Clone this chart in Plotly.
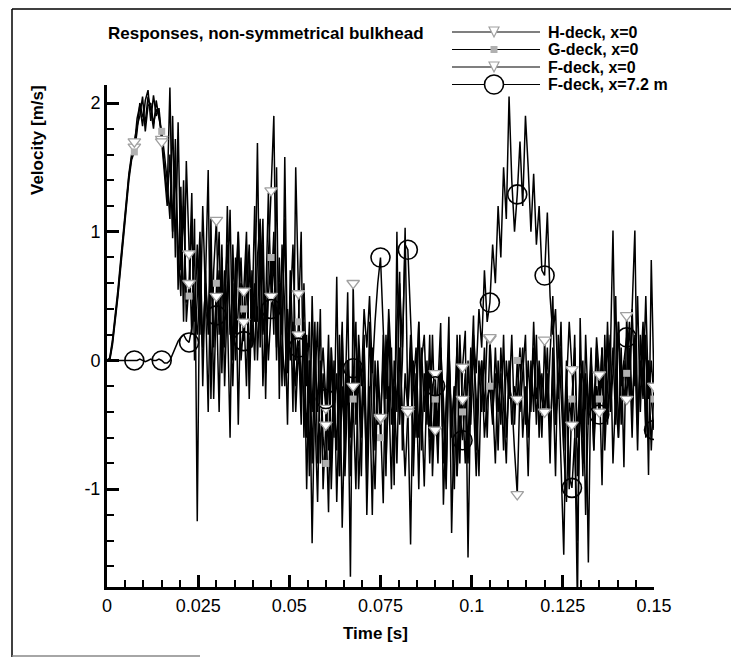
import plotly.graph_objects as go

# ---------------- data ----------------
time_step = 0.00075          # sampling step of the curves [s]
marker_every = 10            # a symbol is drawn every 10th sample (0.0075 s)

h_deck = [
    0, 0.02, 0.16, 0.34, 0.55, 0.78, 1.02, 1.25, 1.45, 1.6,
    1.66, 1.88, 1.98, 1.82, 2.02, 2.1, 1.86, 2.06, 1.9, 1.96,
    1.72, 1.5, 1.28, 2.12, 0.95, 1.72, 0.55, 1.35, 0.3, 1.55,
    0.83, 0.2, 1.1, -1.25, 0.9, 0.1, 0.6, 1.48, -0.3, 0.7,
    1.09, 0.2, 0.9, -0.2, 0.5, 1.17, 0.0, 0.8, -0.5, 0.6,
    0.54, 1.0, -0.1, 0.7, 0.3, 1.69, 0.1, 0.9, -0.3, 0.8,
    1.32, 1.9, 0.2, 0.6, -0.2, 1.58, 0.0, 0.5, -0.4, 1.5,
    0.52, -0.3, 0.3, -1.0, 0.0, -1.42, -0.2, 0.3, -0.8, -0.1,
    -0.37, -1.18, 0.1, -0.6, 0.65, -0.9, -0.2, -0.7, 0.0, -1.68,
    0.6, -0.5, -0.1, -0.9, 0.2, -1.2, -0.3, 0.1, -0.7, 0.0,
    -0.45, -1.11, 0.2, -0.4, 0.1, -0.97, 1.0, -0.5, 0.0, 1.03,
    -0.38, -1.43, 0.0, -0.6, 0.3, -0.3, -0.98, -0.1, -0.6, 0.2,
    -0.54, -0.2, 0.29, -1.12, -0.3, 0.34, -1.34, -0.4, 0.1, -0.8,
    -0.05, 0.23, -1.53, -0.2, 0.35, -0.7, 0.0, -0.4, 0.1, -0.6,
    0.17, -0.3, -0.8, 0.0, -0.5, 0.2, -0.6, -0.2, -0.3, -0.7,
    -1.04, -0.2, 0.1, -0.5, 0.0, -0.4, 0.3, -0.3, -0.1, -0.6,
    0.16, -0.4, 0.0, 0.5, -0.5, -0.1, -0.8, -1.51, -0.2, 0.3,
    -0.07, -0.5, -1.9, 0.33, -0.6, -0.2, -1.57, 0.0, -0.4, 0.18,
    -0.11, -0.97, 0.2, -0.5, 0.0, 1.01, -0.3, -0.6, 0.1, -0.83,
    0.35, -0.2, 0.4, 1.01, -0.5, 0.0, -0.3, 0.2, -0.89, 0.78,
    -0.2,
]

g_deck = [
    0, 0.0, 0.12, 0.3, 0.5, 0.72, 0.96, 1.2, 1.4, 1.56,
    1.62, 1.78, 2.0, 1.9, 1.85, 2.05, 1.95, 1.8, 2.02, 1.88,
    1.78, 1.6, 1.4, 1.1, 1.9, 0.8, 1.85, 0.7, 1.2, 0.45,
    0.5, 1.1, 0.3, 0.9, 0.2, 1.2, 0.5, -0.4, 0.8, 0.1,
    0.6, 1.0, -0.1, 0.7, 0.4, -0.6, 0.9, 0.2, 1.0, 0.3,
    0.4, -0.2, 0.8, 0.3, 1.2, 0.0, 0.6, 1.1, -0.1, 0.5,
    0.8, 0.2, 1.5, -0.3, 0.9, 0.4, -0.5, 0.7, 0.1, -0.2,
    0.3, 1.0, -0.6, 0.2, -0.9, 0.5, -0.4, -1.1, 0.0, -0.6,
    -0.8, 0.0, -1.0, -0.3, -0.7, 0.2, -1.3, -0.4, 0.53, -0.9,
    -0.3, -1.0, 0.1, -0.6, -0.2, -0.9, 0.3, -0.5, -1.0, -0.1,
    -0.6, 0.2, -0.8, -0.2, -1.0, 0.0, -0.4, 0.69, -0.7, -0.1,
    -0.4, 0.1, -0.9, -0.2, 0.3, -0.7, -0.1, -0.5, 0.2, -0.9,
    -0.3, -0.8, 0.0, -0.4, -1.0, 0.1, -0.5, -0.2, -0.9, 0.2,
    -0.4, -0.1, -0.7, 0.1, -0.3, -0.9, -0.2, 0.0, -0.6, -0.3,
    -0.2, -0.5, 0.1, -0.4, -0.1, -0.7, 0.0, -0.3, 0.2, -0.5,
    0.0, -0.4, -0.1, 0.2, -0.6, -0.2, 0.1, -0.5, 0.0, -0.3,
    -0.4, 0.1, -0.6, -0.1, -0.9, 0.2, -0.3, -0.7, 0.0, -1.0,
    -0.3, 0.1, -0.6, -0.1, -0.9, 0.2, -0.4, -0.1, -0.7, 0.1,
    -0.3, 0.1, -0.5, 0.3, -0.4, -0.1, 0.5, -0.6, 0.0, -0.3,
    -0.1, 0.3, -0.4, 0.1, -0.7, 0.2, -0.2, 0.5, -0.3, 0.0,
    -0.3,
]

f_deck = [
    0, 0.01, 0.14, 0.32, 0.52, 0.75, 0.99, 1.22, 1.43, 1.58,
    1.7, 1.82, 1.9, 2.05, 1.78, 1.98, 2.0, 1.84, 1.95, 1.92,
    1.7, 1.45, 1.2, 1.6, 1.0, 1.5, 0.9, 0.5, 1.4, 0.3,
    0.6, 1.3, 0.0, 0.5, 1.0, -0.2, 0.7, 0.2, 1.1, -0.3,
    0.5, -0.4, 0.8, 0.1, 1.2, 0.3, -0.2, 0.6, 1.0, 0.0,
    0.3, 0.9, -0.3, 0.5, 0.0, 0.8, 1.1, -0.2, 0.4, 1.3,
    0.5, 1.0, 0.0, 0.8, 0.2, 1.1, -0.1, 0.4, 0.9, 0.0,
    0.2, -0.5, 0.6, -0.2, 0.3, -0.8, 0.1, -0.4, 0.4, -1.0,
    -0.5, 0.2, -0.8, 0.0, -1.1, -0.3, 0.3, -0.9, -0.2, -0.6,
    -0.2, 0.3, -1.0, -0.4, 0.1, -0.7, -0.2, -1.2, 0.0, -0.5,
    -0.44, 0.0, -0.9, 0.3, -0.5, -0.2, -0.8, 0.1, -0.4, -0.9,
    -0.4, 0.2, -0.7, -0.1, -1.0, 0.1, -0.4, 0.0, -0.8, -0.2,
    -0.1, -0.7, 0.1, -0.3, -0.9, 0.0, -0.5, -1.0, 0.2, -0.4,
    -0.3, -0.8, 0.0, -0.5, 0.1, -0.3, -0.9, 0.0, -0.4, 0.2,
    0.18, -0.4, -0.1, -0.7, 0.1, -0.3, -0.8, 0.0, -0.5, -0.2,
    -0.3, 0.1, -0.6, -0.2, -0.9, 0.0, -0.4, 0.2, -0.6, -0.1,
    -0.4, -0.1, -0.8, 0.1, -0.5, -0.2, 0.3, -0.7, -1.1, -0.3,
    -0.5, 0.2, -0.9, -0.3, 0.0, -1.2, -0.4, 0.1, -0.6, -0.2,
    -0.4, 0.1, -0.7, -0.2, 0.2, -0.8, -0.3, 0.3, -0.5, 0.0,
    -0.3, 0.1, -0.6, 0.2, -0.4, -0.1, 0.3, -0.5, 0.0, -0.7,
    -0.2,
]

f_deck_72 = [
    0, 0, 0, 0, 0, 0, 0, 0, 0, 0,
    0, 0.0, 0.01, 0.0, -0.01, 0.0, 0.01, 0.0, 0.0, 0.01,
    0, -0.02, -0.02, 0.0, 0.05, 0.1, 0.15, 0.18, 0.2, 0.16,
    0.14, 0.25, 0.4, 0.2, 0.55, 0.1, 0.6, 0.3, 0.8, 0.2,
    0.35, 0.7, 0.1, 0.5, 0.9, 0.2, 0.6, 0.0, 0.4, 0.8,
    0.15, 0.5, 0.9, 0.1, 0.6, 0.3, 1.0, 0.2, 0.5, 0.0,
    0.4, 0.8, 0.1, 0.5, 0.2, -0.2, 0.4, 0.0, 0.3, -0.4,
    0.1, -0.3, 0.2, -0.6, 0.0, -0.4, 0.3, -0.8, -0.2, 0.1,
    -0.3, -0.7, 0.1, -0.4, -0.1, -0.9, 0.2, -0.5, 0.0, -0.3,
    -0.06, -0.4, 0.2, -0.2, 0.4, 0.1, 0.5, -0.1, 0.3, 0.6,
    0.8, 0.2, -0.3, 0.4, 0.0, -0.5, 0.3, 0.6, 0.1, 0.9,
    0.86, 0.3, -0.2, 0.1, -0.6, 0.0, 0.2, -0.4, -0.1, -0.7,
    -0.2, -0.5, 0.0, -0.8, -0.3, 0.1, -0.6, -0.2, -0.9, -0.4,
    -0.62, -0.3, -0.8, -0.2, 0.2, -0.1, 0.4, 0.1, 0.7, 0.3,
    0.45, 0.9, 0.6, 1.2, 0.8, 1.5, 1.1, 2.05, 1.4, 1.0,
    1.29, 1.7, 1.2, 1.9, 1.5, 1.0, 1.45, 0.9, 1.2, 0.7,
    0.66, 1.15, 0.5, 0.2, 0.4, -0.3, 0.1, -0.6, -0.2, -0.9,
    -0.99, -0.6, -1.4, -0.3, -0.8, -0.1, -0.5, 0.0, -0.7, -0.2,
    -0.42, -0.1, -0.6, 0.2, -0.3, 0.1, -0.5, 0.3, -0.2, 0.0,
    0.18, -0.3, 0.4, -0.2, 0.5, -0.4, 0.2, -0.6, 0.0, -0.3,
    -0.54,
]

series_names = ["H-deck, x=0", "G-deck, x=0", "F-deck, x=0", "F-deck, x=7.2 m"]
x_tick_vals = [0, 0.025, 0.05, 0.075, 0.1, 0.125, 0.15]
x_tick_text = ["0", "0.025", "0.05", "0.075", "0.1", "0.125", "0.15"]
y_tick_vals = [-1, 0, 1, 2]
y_tick_text = ["-1", "0", "1", "2"]
title_text = "Responses, non-symmetrical bulkhead"
x_title = "Time [s]"
y_title = "Velocity [m/s]"

time = [round(i * time_step, 6) for i in range(len(h_deck))]

# ---------------- styles ----------------
W, H = 731, 658
L, R, T, B = 107, 77, 85, 71
PW, PH = W - L - R, H - T - B
FONT = "Liberation Sans, Arial, Helvetica, sans-serif"

def px(x):
    return (x - L) / PW

def py(y):
    return (H - B - y) / PH

styles = [
    dict(symbol="triangle-down", size=11, fill="white", color="#a0a0a0", lw=1.3),
    dict(symbol="square", size=7, fill="#b0b0b0", color="#b0b0b0", lw=0),
    dict(symbol="triangle-down", size=11, fill="white", color="#a0a0a0", lw=1.3),
    dict(symbol="circle", size=19, fill="rgba(0,0,0,0)", color="black", lw=1.6),
]

all_series = [h_deck, g_deck, f_deck, f_deck_72]

fig = go.Figure()
for name, ys in zip(series_names, all_series):
    fig.add_trace(go.Scatter(x=time, y=ys, mode="lines", name=name,
                             line=dict(color="black", width=1.5),
                             showlegend=False, hoverinfo="skip"))
for name, ys, st in zip(series_names, all_series, styles):
    mx = time[marker_every::marker_every]
    my = ys[marker_every::marker_every]
    fig.add_trace(go.Scatter(x=mx, y=my, mode="markers", name=name,
                             marker=dict(symbol=st["symbol"], size=st["size"], color=st["fill"],
                                         line=dict(color=st["color"], width=st["lw"])),
                             showlegend=False, hoverinfo="skip"))

shapes = []
annotations = []

# outer frame (partial, as in the scan)
shapes.append(dict(type="line", xref="paper", yref="paper", x0=px(12), x1=px(731), y0=py(9), y1=py(9),
                   line=dict(color="black", width=1.5)))
shapes.append(dict(type="line", xref="paper", yref="paper", x0=px(12), x1=px(12), y0=py(9), y1=py(657),
                   line=dict(color="black", width=1.5)))
shapes.append(dict(type="line", xref="paper", yref="paper", x0=px(12), x1=px(200), y0=py(656), y1=py(656),
                   line=dict(color="#888888", width=1.5)))

# manual legend
leg_rows = [32, 49.5, 67, 84.5]
for name, st, yrow in zip(series_names, styles, leg_rows):
    shapes.append(dict(type="line", xref="paper", yref="paper", x0=px(452), x1=px(540),
                       y0=py(yrow), y1=py(yrow), line=dict(color="black", width=1.2)))
    cx = 494
    if st["symbol"] == "circle":
        r = 9.5
        shapes.append(dict(type="circle", xref="paper", yref="paper", x0=px(cx - r), x1=px(cx + r),
                           y0=py(yrow + r), y1=py(yrow - r), fillcolor="white",
                           line=dict(color="black", width=1.6)))
    elif st["symbol"] == "square":
        s = 3.5
        shapes.append(dict(type="rect", xref="paper", yref="paper", x0=px(cx - s), x1=px(cx + s),
                           y0=py(yrow + s), y1=py(yrow - s), fillcolor=st["fill"],
                           line=dict(width=0)))
    else:
        s = 5
        path = "M {} {} L {} {} L {} {} Z".format(px(cx - s), py(yrow - s), px(cx + s), py(yrow - s),
                                                  px(cx), py(yrow + s))
        shapes.append(dict(type="path", xref="paper", yref="paper", path=path, fillcolor="white",
                           line=dict(color=st["color"], width=1.2)))
    annotations.append(dict(text="<b>" + name + "</b>", xref="paper", yref="paper", x=px(547), y=py(yrow),
                            xanchor="left", yanchor="middle", showarrow=False, borderpad=0,
                            font=dict(family=FONT, size=16, color="black")))

annotations.append(dict(text="<b>" + title_text + "</b>", xref="paper", yref="paper", x=px(106), y=py(33),
                        xanchor="left", yanchor="middle", showarrow=False,
                        font=dict(family=FONT, size=17, color="black")))
annotations.append(dict(text="<b>" + y_title + "</b>", xref="paper", yref="paper", x=px(37), y=py(140),
                        xanchor="center", yanchor="middle", textangle=-90, showarrow=False,
                        font=dict(family=FONT, size=17, color="black")))
annotations.append(dict(text="<b>" + x_title + "</b>", xref="paper", yref="paper", x=px(375), y=py(633),
                        xanchor="center", yanchor="middle", showarrow=False,
                        font=dict(family=FONT, size=17, color="black")))

fig.update_layout(
    width=W, height=H,
    margin=dict(l=L, r=R, t=T, b=B, pad=0),
    paper_bgcolor="white", plot_bgcolor="white",
    showlegend=False,
    shapes=shapes, annotations=annotations,
    font=dict(family=FONT, size=18, color="black"),
)
fig.update_xaxes(range=[0, 0.15], tickvals=x_tick_vals, ticktext=x_tick_text,
                 ticks="inside", ticklen=12, tickwidth=2.5, tickcolor="black",
                 minor=dict(ticks="inside", ticklen=7, tickwidth=1.5, dtick=0.005, tick0=0, tickcolor="black"),
                 showgrid=False, zeroline=False, showline=True, linewidth=3, linecolor="black",
                 tickfont=dict(family=FONT, size=18))
fig.update_yaxes(range=[-1.76, 2.14], tickvals=y_tick_vals, ticktext=y_tick_text,
                 ticks="inside", ticklen=12, tickwidth=2.5, tickcolor="black",
                 minor=dict(ticks="inside", ticklen=7, tickwidth=1.5, dtick=0.2, tick0=0, tickcolor="black"),
                 showgrid=False, zeroline=False, showline=True, linewidth=3, linecolor="black",
                 tickfont=dict(family=FONT, size=18))

fig.write_html("out.html", config={"displayModeBar": False},
               post_script="document.body.style.margin='0px';")
